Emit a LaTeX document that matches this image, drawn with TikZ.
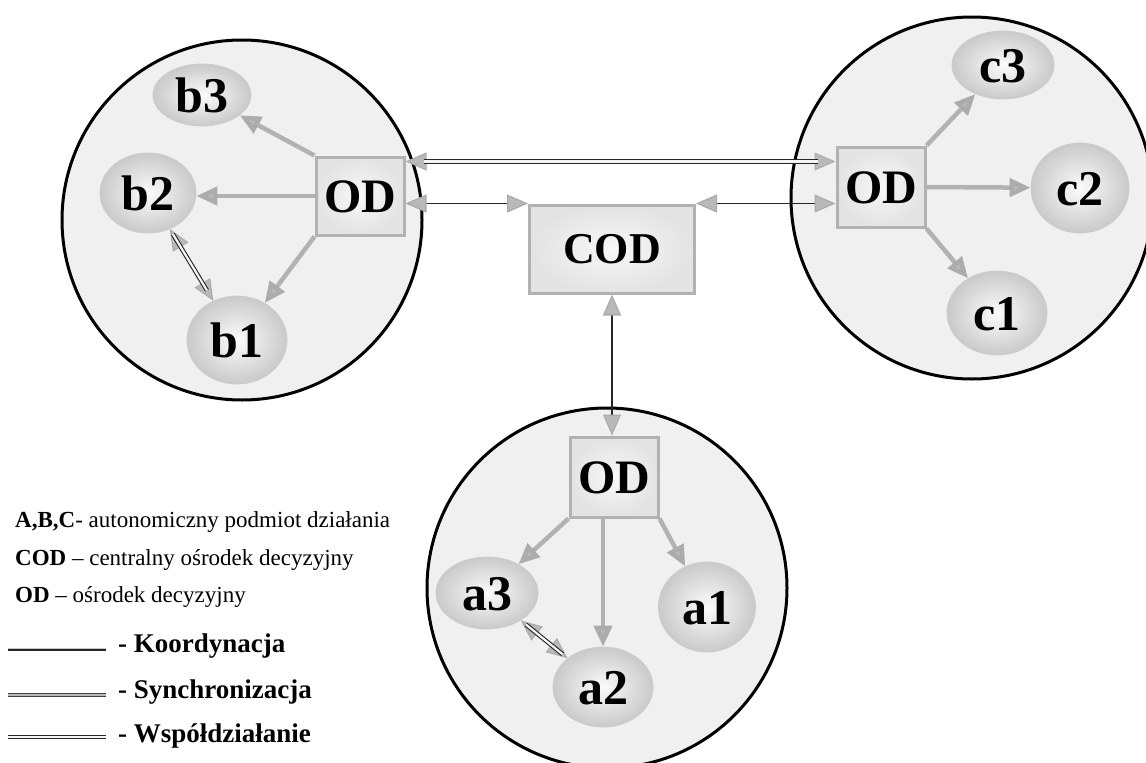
\documentclass[tikz,border=0pt]{standalone}
\usepackage{fontspec}
\setmainfont{Liberation Serif}
\usetikzlibrary{arrows.meta,shapes.geometric}
\tikzset{
  gtip/.tip={Triangle[length=21pt,width=18pt,color=gray!65,fill=gray!55]},
  big/.style={circle, draw=black, line width=3pt, fill=gray!12, minimum size=#1},
  odbox/.style={rectangle, draw=gray!60, line width=3pt, inner color=gray!6, outer color=gray!22, minimum width=88pt, minimum height=78pt,
     font=\bfseries\fontsize{48}{48}\selectfont, text height=32pt, text depth=0pt},
  ent/.style={ellipse, draw=gray!40, line width=0.8pt, inner color=gray!3, outer color=gray!42,
     font=\bfseries\fontsize{50}{50}\selectfont, inner sep=0pt, text height=34pt, text depth=0pt},
  inarrow/.style={draw=gray!60, line width=4.5pt, -{gtip}},
  coord/.style={draw=black!85, line width=1.3pt, {gtip}-{gtip}},
  wbase/.style={draw=gray!65, line width=1pt, {gtip}-{gtip}},
  wline/.style={draw=black!85, line width=1.1pt, double=white!92!gray, double distance=2.2pt},
  sline/.style={draw=black!75, line width=0.9pt, double=gray!55, double distance=2.4pt},
  kline/.style={draw=black!85, line width=1.4pt},
  legend/.style={anchor=west, inner sep=0pt, font=\fontsize{23}{23}\selectfont},
  legendb/.style={anchor=west, inner sep=0pt, font=\bfseries\fontsize{27}{27}\selectfont},
}
\begin{document}
\begin{tikzpicture}[x=1pt,y=-1pt]
\useasboundingbox (0,0) rectangle (1146,763);
\clip (0,0) rectangle (1146,763);
\fill[white] (0,0) rectangle (1146,763);

% big circles
\node[big=360pt] (B) at (242,220) {};
\node[big=362pt] (C) at (972,198) {};
\node[big=360pt] (A) at (607,588) {};

% decision centres
\node[odbox] (ODb) at (360,196) {OD};
\node[odbox, minimum height=80pt] (ODc) at (881,187) {OD};
\node[odbox, minimum height=80pt] (ODa) at (614,477) {OD};
\node[odbox, minimum width=165pt, minimum height=88pt, font=\bfseries\fontsize{44}{44}\selectfont, text height=29pt] (COD) at (612,249) {COD};

% entities B
\node[ent, minimum width=98pt, minimum height=62pt] (b3) at (202,95) {b3};
\node[ent, minimum width=96pt, minimum height=80pt] (b2) at (148,193) {b2};
\node[ent, minimum width=100pt, minimum height=88pt] (b1) at (237,340) {b1};
% entities C
\node[ent, minimum width=102pt, minimum height=68pt] (c3) at (1003,65) {c3};
\node[ent, minimum width=98pt, minimum height=90pt] (c2) at (1080,188) {c2};
\node[ent, minimum width=100pt, minimum height=84pt] (c1) at (997,313) {c1};
% entities A
\node[ent, minimum width=102pt, minimum height=72pt] (a3) at (487,593) {a3};
\node[ent, minimum width=97pt, minimum height=90pt] (a1) at (707,607) {a1};
\node[ent, minimum width=100pt, minimum height=80pt] (a2) at (603,687) {a2};

% arrows inside circle B
\draw[inarrow] (ODb.north west) -- (b3);
\draw[inarrow] (ODb.west) -- (b2.east |- ODb.west);
\draw[inarrow] (ODb.south west) -- (b1);
\draw[wbase] (b2) -- (b1);
\draw[wline, shorten <=48pt, shorten >=58pt] (b2.center) -- (b1.center);
% arrows inside circle C
\draw[inarrow] (ODc.north east) -- (c3);
\draw[inarrow] (ODc.east) -- (c2);
\draw[inarrow] (ODc.south east) -- (c1);
% arrows inside circle A
\draw[inarrow] (ODa.south west) -- (a3);
\draw[inarrow] (a2 |- ODa.south) -- (a2);
\draw[inarrow] (ODa.south east) -- (a1);
\draw[wbase] (a3) -- (a2);
\draw[wline, shorten <=50pt, shorten >=52pt] (a3.center) -- (a2.center);

% connectors between centres
\coordinate (tL) at ([yshift=-6pt]ODb.north east);
\coordinate (tR) at (tL -| ODc.west);
\draw[wbase] (tL) -- (tR);
\draw[wline, shorten <=18pt, shorten >=18pt] (tL) -- (tR);
\draw[coord] (COD.north west -| ODb.east) -- (COD.north west);
\draw[coord] (COD.north east) -- (COD.north east -| ODc.west);
\draw[coord] (COD.south) -- (COD.south |- ODa.north);

% legend
\node[legend] (lA) at (15,522) {\textbf{A,B,C}- autonomiczny podmiot działania};
\node[legend] (lC) at (15,560) {\textbf{COD} – centralny ośrodek decyzyjny};
\node[legend] (lO) at (15,597) {\textbf{OD} – ośrodek decyzyjny};
\coordinate (k1) at (8,650); \coordinate (k2) at (106,650);
\draw[gray!45, line width=1.5pt] ([yshift=1.5pt]k1) -- ([yshift=1.5pt]k2);
\draw[kline] (k1) -- (k2);
\node[legendb] (lK) at (118,646) {- Koordynacja};
\coordinate (s1) at (8,695); \coordinate (s2) at (106,695);
\draw[sline] (s1) -- (s2);
\node[legendb] (lS) at (118,692) {- Synchronizacja};
\coordinate (w1) at (8,737); \coordinate (w2) at (106,737);
\draw[wline] (w1) -- (w2);
\node[legendb] (lW) at (118,736) {- Współdziałanie};
\end{tikzpicture}
\end{document}
